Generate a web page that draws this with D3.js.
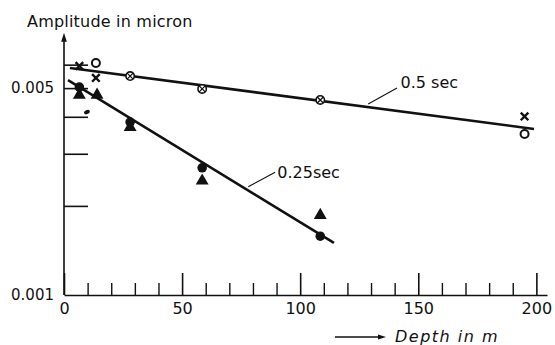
<!DOCTYPE html>
<html>
<head>
<meta charset="utf-8">
<script src="https://cdn.jsdelivr.net/npm/d3@7"></script>
<style>
body { margin: 0; background: #fff; }
svg text { font-family: "DejaVu Sans", sans-serif; fill: #111; }
</style>
</head>
<body>
<div id="wrapper"></div>
<script>
// depth (m) and amplitude (micron)
const depths05Cross = [6.5, 13.5, 195]
const amp05Cross = [0.00594, 0.00541, 0.00401]
const depths05Circle = [13.5, 195]
const amp05Circle = [0.00608, 0.00350]
const depths05Both = [28, 58.5, 108.5]
const amp05Both = [0.00549, 0.00497, 0.00456]

const depths025Dot = [6.5, 28, 58.5, 108.5]
const amp025Dot = [0.00504, 0.00384, 0.00269, 0.00158]
const depths025Tri = [6.5, 14, 28, 58.5, 108.5]
const amp025Tri = [0.00474, 0.00474, 0.00369, 0.00243, 0.00186]

const strayDepth = [9.7]
const strayAmp = [0.00415]

// fitted lines (end points)
const fit05Depth = [2.5, 199]
const fit05Amp = [0.00585, 0.00364]
const fit025Depth = [1.7, 114.3]
const fit025Amp = [0.00532, 0.00150]

const xTicksMajor = [0, 50, 100, 150, 200]
const xTicksMinor = [10, 20, 30, 40, 60, 70, 80, 90, 110, 120, 130, 140, 160, 170, 180, 190]
const yTicks = [0.002, 0.003, 0.004, 0.005, 0.006]
const yTickLabels = ["0.001", "0.005"]

const zip = (xs, ys) => xs.map((x, i) => ({ x: x, y: ys[i] }))

let dimensions = { width: 555, height: 345 }

const wrapper = d3.select("#wrapper")
    .append("svg")
    .attr("width", dimensions.width)
    .attr("height", dimensions.height)

const xScale = d3.scaleLinear()
    .domain([0, 204.5])
    .range([64, 547])

const yScale = d3.scaleLog()
    .domain([0.001, 0.01])
    .range([295, -1])

const x0 = xScale(0)
const yBase = yScale(0.001)

// y axis line + arrow
wrapper.append("line")
    .attr("x1", x0).attr("x2", x0)
    .attr("y1", yBase).attr("y2", yScale(0.0074))
    .attr("stroke", "#111").attr("stroke-width", 1.6)
const yTop = yScale(0.0074)
wrapper.append("path")
    .attr("d", `M${x0},${yTop - 5} L${x0 - 2.8},${yTop + 4} L${x0 + 2.8},${yTop + 4} Z`)
    .attr("fill", "#111")

// y ticks (inward)
const yAxis = wrapper.append("g")
    .attr("transform", `translate(${x0},0)`)
    .call(d3.axisLeft(yScale)
        .tickValues(yTicks.concat([0.001]))
        .tickSize(-24)
        .tickSizeOuter(0)
        .tickPadding(10)
        .tickFormat(d => {
            const s = d3.format(".3f")(d)
            return yTickLabels.includes(s) ? s : ""
        }))
yAxis.select(".domain").remove()
yAxis.selectAll(".tick line").attr("stroke", "#111").attr("stroke-width", 1.6)
yAxis.selectAll(".tick").filter(d => d === 0.001).select("line").remove()
yAxis.selectAll("text").style("font-size", "15px").attr("fill", "#111")

// x axis
const xMinor = wrapper.append("g")
    .attr("transform", `translate(0,${yBase})`)
    .call(d3.axisBottom(xScale)
        .tickValues(xTicksMinor)
        .tickSize(-12)
        .tickSizeOuter(0)
        .tickFormat(""))
xMinor.select(".domain").attr("stroke", "#111").attr("stroke-width", 1.6)
xMinor.selectAll(".tick line").attr("stroke", "#111").attr("stroke-width", 1.4)

const xMajor = wrapper.append("g")
    .attr("transform", `translate(0,${yBase})`)
    .call(d3.axisBottom(xScale)
        .tickValues(xTicksMajor)
        .tickSize(-22)
        .tickSizeOuter(0)
        .tickPadding(8))
xMajor.select(".domain").remove()
xMajor.selectAll(".tick line").attr("stroke", "#111").attr("stroke-width", 1.6)
xMajor.selectAll("text").style("font-size", "16px").attr("fill", "#111")

// axis titles
wrapper.append("text")
    .attr("x", 27).attr("y", 27)
    .style("font-size", "16px")
    .style("letter-spacing", "0.2px")
    .text("Amplitude in micron")

const arrowY = 337
wrapper.append("line")
    .attr("x1", 335).attr("x2", 380)
    .attr("y1", arrowY).attr("y2", arrowY)
    .attr("stroke", "#111").attr("stroke-width", 1.3)
wrapper.append("path")
    .attr("d", `M386,${arrowY} L378,${arrowY - 2.5} L378,${arrowY + 2.5} Z`)
    .attr("fill", "#111")
wrapper.append("text")
    .attr("x", 395).attr("y", 342)
    .style("font-size", "16px")
    .style("font-style", "italic")
    .style("letter-spacing", "1.5px")
    .text("Depth in m")

// fitted lines
const lineGenerator = d3.line()
    .x(d => xScale(d.x))
    .y(d => yScale(d.y))

wrapper.append("path")
    .attr("d", lineGenerator(zip(fit05Depth, fit05Amp)))
    .attr("stroke", "#111").attr("stroke-width", 2.6).attr("fill", "none")
wrapper.append("path")
    .attr("d", lineGenerator(zip(fit025Depth, fit025Amp)))
    .attr("stroke", "#111").attr("stroke-width", 2.6).attr("fill", "none")

// markers
const triangle = d3.symbol().type(d3.symbolTriangle).size(72)

wrapper.append("g").selectAll("path")
    .data(zip(depths025Tri, amp025Tri))
    .join("path")
    .attr("d", triangle)
    .attr("transform", d => `translate(${xScale(d.x)},${yScale(d.y)})`)
    .attr("fill", "#111")

wrapper.append("g").selectAll("circle")
    .data(zip(depths025Dot, amp025Dot))
    .join("circle")
    .attr("cx", d => xScale(d.x))
    .attr("cy", d => yScale(d.y))
    .attr("r", 4.8)
    .attr("fill", "#111")

wrapper.append("g").selectAll("ellipse")
    .data(zip(strayDepth, strayAmp))
    .join("ellipse")
    .attr("cx", d => xScale(d.x))
    .attr("cy", d => yScale(d.y))
    .attr("rx", 3).attr("ry", 2)
    .attr("transform", d => `rotate(-25,${xScale(d.x)},${yScale(d.y)})`)
    .attr("fill", "#111")

wrapper.append("g").selectAll("circle")
    .data(zip(depths05Circle, amp05Circle))
    .join("circle")
    .attr("cx", d => xScale(d.x))
    .attr("cy", d => yScale(d.y))
    .attr("r", 4)
    .attr("fill", "#fff")
    .attr("stroke", "#111").attr("stroke-width", 2)

const crossPath = (cx, cy, s) =>
    `M${cx - s},${cy - s} L${cx + s},${cy + s} M${cx - s},${cy + s} L${cx + s},${cy - s}`

wrapper.append("g").selectAll("path")
    .data(zip(depths05Cross, amp05Cross))
    .join("path")
    .attr("d", d => crossPath(xScale(d.x), yScale(d.y), 3.8))
    .attr("stroke", "#111").attr("stroke-width", 2.4)

const both = wrapper.append("g").selectAll("g")
    .data(zip(depths05Both, amp05Both))
    .join("g")
    .attr("transform", d => `translate(${xScale(d.x)},${yScale(d.y)})`)
both.append("circle")
    .attr("r", 4.2)
    .attr("fill", "#fff")
    .attr("stroke", "#111").attr("stroke-width", 1.6)
both.append("path")
    .attr("d", crossPath(0, 0, 3))
    .attr("stroke", "#111").attr("stroke-width", 1.3)

// line labels with leaders
wrapper.append("line")
    .attr("x1", xScale(128.8)).attr("y1", yScale(0.00442))
    .attr("x2", xScale(141)).attr("y2", yScale(0.0050))
    .attr("stroke", "#111").attr("stroke-width", 1.1)
wrapper.append("text")
    .attr("x", xScale(142.5)).attr("y", yScale(0.0050))
    .style("font-size", "16px")
    .text("0.5 sec")

wrapper.append("line")
    .attr("x1", xScale(78)).attr("y1", yScale(0.00232))
    .attr("x2", xScale(89.4)).attr("y2", yScale(0.0026))
    .attr("stroke", "#111").attr("stroke-width", 1.1)
wrapper.append("text")
    .attr("x", xScale(90.3)).attr("y", yScale(0.00248))
    .style("font-size", "16px")
    .text("0.25sec")
</script>
</body>
</html>
